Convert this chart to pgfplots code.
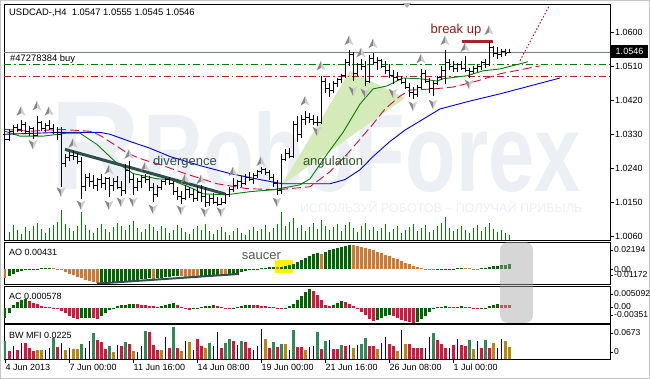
\documentclass[border=0pt]{standalone}
\usepackage{pgfplots}
\pgfplotsset{compat=1.18}
\usepackage{pgfplotstable}
\usepackage{graphicx}
\usepackage{fontspec}
\setmainfont{Liberation Sans}

\definecolor{wm}{RGB}{236,239,243}
\definecolor{aogreen}{RGB}{0,100,0}
\definecolor{aoorange}{RGB}{210,120,50}
\definecolor{acred}{RGB}{220,20,60}
\definecolor{mfigreen}{RGB}{46,139,87}
\definecolor{mfired}{RGB}{220,20,60}
\definecolor{mfigold}{RGB}{184,134,11}
\definecolor{mfiblue}{RGB}{0,0,128}
\definecolor{volgreen}{RGB}{0,128,0}
\definecolor{jaw}{RGB}{0,0,205}
\definecolor{teeth}{RGB}{200,20,60}
\definecolor{lips}{RGB}{0,128,0}
\definecolor{wedge}{RGB}{212,234,184}
\definecolor{slate}{RGB}{47,79,79}
\definecolor{bidgray}{RGB}{112,128,144}
\definecolor{brk}{RGB}{165,35,35}
\definecolor{brktxt}{RGB}{140,30,30}
\definecolor{angtxt}{RGB}{45,90,45}
\definecolor{sautxt}{RGB}{80,92,80}
\definecolor{fracdark}{RGB}{135,135,135}
\definecolor{fraclight}{RGB}{205,205,205}
\definecolor{ordgreen}{RGB}{0,128,0}
\definecolor{ordred}{RGB}{178,34,34}

\newcommand{\lab}{\fontsize{9}{10}\selectfont}
\newcommand{\bigtxt}{\fontsize{13}{15}\selectfont}

\pgfdeclareplotmark{otick}{\pgfpathmoveto{\pgfqpoint{-1.8pt}{0pt}}\pgfpathlineto{\pgfqpoint{0pt}{0pt}}\pgfusepathqstroke}
\pgfdeclareplotmark{ctick}{\pgfpathmoveto{\pgfqpoint{0pt}{0pt}}\pgfpathlineto{\pgfqpoint{1.8pt}{0pt}}\pgfusepathqstroke}
\pgfdeclareplotmark{fup}{%
 \pgfsetfillcolor{fracdark}%
 \pgfpathmoveto{\pgfqpoint{0pt}{5pt}}\pgfpathlineto{\pgfqpoint{-4.5pt}{-4.5pt}}\pgfpathlineto{\pgfqpoint{0pt}{-2pt}}\pgfpathclose\pgfusepathqfill
 \pgfsetfillcolor{fraclight}%
 \pgfpathmoveto{\pgfqpoint{0pt}{5pt}}\pgfpathlineto{\pgfqpoint{4.5pt}{-4.5pt}}\pgfpathlineto{\pgfqpoint{0pt}{-2pt}}\pgfpathclose\pgfusepathqfill}
\pgfdeclareplotmark{fdown}{%
 \pgfsetfillcolor{fracdark}%
 \pgfpathmoveto{\pgfqpoint{0pt}{-5pt}}\pgfpathlineto{\pgfqpoint{-4.5pt}{4.5pt}}\pgfpathlineto{\pgfqpoint{0pt}{2pt}}\pgfpathclose\pgfusepathqfill
 \pgfsetfillcolor{fraclight}%
 \pgfpathmoveto{\pgfqpoint{0pt}{-5pt}}\pgfpathlineto{\pgfqpoint{4.5pt}{4.5pt}}\pgfpathlineto{\pgfqpoint{0pt}{2pt}}\pgfpathclose\pgfusepathqfill}

\pgfplotstableread{
i o h l c
0 1.0330 1.0343 1.0303 1.0315
1 1.0315 1.0345 1.0312 1.0338
2 1.0338 1.0355 1.0328 1.0348
3 1.0348 1.0358 1.0335 1.0342
4 1.0342 1.0367 1.0336 1.0355
5 1.0355 1.0362 1.0330 1.0338
6 1.0338 1.0352 1.0326 1.0344
7 1.0344 1.0350 1.0317 1.0328
8 1.0328 1.0378 1.0325 1.0360
9 1.0360 1.0365 1.0338 1.0345
10 1.0345 1.0360 1.0336 1.0352
11 1.0352 1.0367 1.0340 1.0346
12 1.0346 1.0358 1.0330 1.0335
13 1.0335 1.0348 1.0315 1.0330
14 1.0330 1.0350 1.0191 1.0252
15 1.0252 1.0277 1.0244 1.0268
16 1.0268 1.0282 1.0258 1.0275
17 1.0275 1.0287 1.0262 1.0270
18 1.0270 1.0280 1.0250 1.0258
19 1.0258 1.0271 1.0159 1.0192
20 1.0192 1.0226 1.0180 1.0215
21 1.0215 1.0228 1.0190 1.0205
22 1.0205 1.0222 1.0185 1.0195
23 1.0195 1.0215 1.0180 1.0210
24 1.0210 1.0225 1.0188 1.0200
25 1.0200 1.0218 1.0182 1.0212
26 1.0212 1.0218 1.0164 1.0195
27 1.0195 1.0215 1.0180 1.0205
28 1.0205 1.0220 1.0185 1.0190
29 1.0190 1.0205 1.0166 1.0180
30 1.0180 1.0250 1.0172 1.0235
31 1.0235 1.0258 1.0200 1.0210
32 1.0210 1.0225 1.0168 1.0190
33 1.0190 1.0215 1.0180 1.0205
34 1.0205 1.0222 1.0188 1.0215
35 1.0215 1.0225 1.0200 1.0210
36 1.0210 1.0220 1.0180 1.0190
37 1.0190 1.0200 1.0151 1.0170
38 1.0170 1.0196 1.0165 1.0190
39 1.0190 1.0210 1.0182 1.0205
40 1.0205 1.0215 1.0195 1.0210
41 1.0210 1.0218 1.0195 1.0200
42 1.0200 1.0205 1.0170 1.0178
43 1.0178 1.0190 1.0155 1.0165
44 1.0165 1.0180 1.0146 1.0160
45 1.0160 1.0196 1.0155 1.0185
46 1.0185 1.0190 1.0160 1.0170
47 1.0170 1.0185 1.0150 1.0160
48 1.0160 1.0192 1.0152 1.0175
49 1.0175 1.0196 1.0150 1.0165
50 1.0165 1.0190 1.0138 1.0150
51 1.0150 1.0170 1.0140 1.0160
52 1.0160 1.0175 1.0145 1.0150
53 1.0150 1.0165 1.0140 1.0145
54 1.0145 1.0160 1.0142 1.0150
55 1.0150 1.0175 1.0145 1.0170
56 1.0170 1.0190 1.0165 1.0185
57 1.0185 1.0215 1.0178 1.0195
58 1.0195 1.0210 1.0185 1.0205
59 1.0205 1.0220 1.0190 1.0200
60 1.0200 1.0225 1.0195 1.0215
61 1.0215 1.0230 1.0205 1.0210
62 1.0210 1.0228 1.0198 1.0222
63 1.0222 1.0236 1.0215 1.0232
64 1.0232 1.0242 1.0225 1.0238
65 1.0238 1.0240 1.0222 1.0228
66 1.0228 1.0235 1.0210 1.0215
67 1.0215 1.0225 1.0190 1.0200
68 1.0200 1.0210 1.0170 1.0180
69 1.0180 1.0277 1.0172 1.0262
70 1.0262 1.0290 1.0258 1.0280
71 1.0280 1.0293 1.0266 1.0272
72 1.0272 1.0365 1.0268 1.0355
73 1.0355 1.0378 1.0310 1.0330
74 1.0330 1.0380 1.0320 1.0370
75 1.0370 1.0391 1.0355 1.0375
76 1.0375 1.0385 1.0360 1.0368
77 1.0368 1.0382 1.0355 1.0362
78 1.0362 1.0378 1.0352 1.0362
79 1.0362 1.0485 1.0357 1.0470
80 1.0470 1.0480 1.0440 1.0450
81 1.0450 1.0465 1.0430 1.0445
82 1.0445 1.0470 1.0440 1.0465
83 1.0465 1.0478 1.0455 1.0475
84 1.0475 1.0490 1.0465 1.0485
85 1.0485 1.0530 1.0480 1.0520
86 1.0520 1.0552 1.0510 1.0540
87 1.0540 1.0548 1.0470 1.0490
88 1.0490 1.0520 1.0485 1.0515
89 1.0515 1.0530 1.0500 1.0510
90 1.0510 1.0525 1.0458 1.0470
91 1.0470 1.0540 1.0465 1.0530
92 1.0530 1.0546 1.0515 1.0520
93 1.0520 1.0535 1.0500 1.0525
94 1.0525 1.0530 1.0505 1.0510
95 1.0510 1.0525 1.0490 1.0500
96 1.0500 1.0515 1.0480 1.0485
97 1.0485 1.0500 1.0462 1.0480
98 1.0480 1.0495 1.0470 1.0475
99 1.0475 1.0485 1.0462 1.0468
100 1.0468 1.0480 1.0450 1.0455
101 1.0455 1.0465 1.0430 1.0440
102 1.0440 1.0455 1.0423 1.0435
103 1.0435 1.0460 1.0430 1.0455
104 1.0455 1.0503 1.0450 1.0490
105 1.0490 1.0500 1.0465 1.0470
106 1.0470 1.0480 1.0440 1.0450
107 1.0450 1.0470 1.0431 1.0465
108 1.0465 1.0485 1.0460 1.0480
109 1.0480 1.0510 1.0475 1.0500
110 1.0500 1.0552 1.0463 1.0520
111 1.0520 1.0530 1.0500 1.0510
112 1.0510 1.0525 1.0495 1.0505
113 1.0505 1.0520 1.0495 1.0515
114 1.0515 1.0525 1.0500 1.0505
115 1.0505 1.0538 1.0495 1.0500
116 1.0500 1.0505 1.0480 1.0495
117 1.0495 1.0512 1.0490 1.0505
118 1.0505 1.0515 1.0495 1.0510
119 1.0510 1.0525 1.0500 1.0520
120 1.0520 1.0530 1.0505 1.0515
121 1.0515 1.0578 1.0510 1.0560
122 1.0560 1.0565 1.0535 1.0545
123 1.0545 1.0560 1.0530 1.0540
124 1.0540 1.0555 1.0535 1.0550
125 1.0550 1.0555 1.0538 1.0545
126 1.0547 1.0555 1.0545 1.0546
}\bars

\pgfplotsset{
 panel/.style={anchor=north west, scale only axis, width=606pt, xmin=-0.25, xmax=151.25,
   axis line style={line width=0.8pt}, xtick=\empty, ytick=\empty, clip=true},
}

\begin{document}
\begin{tikzpicture}
\begin{scope}[x=1pt,y=1pt]
\fill[white] (0,0) rectangle (650,379);
\draw[gray!45] (0.5,0.5) rectangle (649.5,378.5);
% watermark
\node[anchor=south west, inner sep=0, text=wm] at (50,189) {\resizebox{90pt}{87pt}{\bfseries R}};
\node[anchor=south west, inner sep=0, text=wm] at (143,186) {\resizebox{437pt}{80pt}{\bfseries RoboForex}};
\node[anchor=west, inner sep=0, text=wm] at (300,172) {\resizebox{282pt}{!}{ИСПОЛЬЗУЙ РОБОТОВ – ПОЛУЧАЙ ПРИБЫЛЬ}};
\end{scope}

% volumes
\begin{axis}[panel, at={(4pt,375pt)}, height=236pt, ymin=0, ymax=23600, axis lines=none]
\addplot[ycomb, volgreen, line width=1pt] coordinates {
(0,1200)(1,800)(2,1500)(3,1000)(4,600)(5,1300)(6,900)(7,1400)(8,1700)(9,1100)(10,700)(11,1200)(12,1500)(13,1800)(14,3000)(15,1600)(16,1200)(17,900)(18,1400)(19,2800)(20,1500)(21,1000)(22,700)(23,1200)(24,1600)(25,1100)(26,800)(27,1300)(28,1700)(29,1400)(30,1000)(31,1500)(32,1900)(33,1200)(34,800)(35,1100)(36,1600)(37,1300)(38,900)(39,1400)(40,1200)(41,700)(42,1000)(43,1500)(44,1200)(45,800)(46,600)(47,1100)(48,1400)(49,1000)(50,1600)(51,900)(52,600)(53,1000)(54,1300)(55,800)(56,500)(57,900)(58,1200)(59,700)(60,500)(61,1000)(62,1300)(63,900)(64,1100)(65,1500)(66,800)(67,1200)(68,1600)(69,2800)(70,1400)(71,1800)(72,2200)(73,1200)(74,1500)(75,900)(76,1300)(77,1700)(78,1100)(79,2000)(80,1400)(81,1000)(82,1300)(83,1600)(84,900)(85,1500)(86,1800)(87,1200)(88,800)(89,1400)(90,1700)(91,1000)(92,1300)(93,900)(94,1200)(95,1600)(96,800)(97,1100)(98,1400)(99,700)(100,1000)(101,1300)(102,1600)(103,900)(104,1200)(105,1500)(106,800)(107,1000)(108,1400)(109,1700)(110,2300)(111,1200)(112,900)(113,1100)(114,1400)(115,1000)(116,700)(117,1200)(118,1500)(119,900)(120,1300)(121,1700)(122,1100)(123,800)(124,1000)(125,700)(126,500)};
\end{axis}

% main price panel
\begin{axis}[panel, at={(4pt,375pt)}, height=236pt, ymin=1.0050, ymax=1.0675,
  ytick={1.0060,1.0150,1.0240,1.0330,1.0420,1.0510,1.0600},
  yticklabels={1.0060,1.0150,1.0240,1.0330,1.0420,1.0510,1.0600},
  ytick pos=right, tick align=outside, major tick length=4pt,
  tick style={black, line width=0.6pt},
  yticklabel style={font=\lab, inner sep=1pt}]
\addplot[fill=wedge, draw=none] coordinates {(69.25,1.0196) (86.25,1.0498) (100,1.0426)} -- cycle;
\addplot[bidgray, line width=0.8pt] coordinates {(-0.25,1.0546) (151.25,1.0546)};
\addplot[ordgreen, line width=0.9pt, dash pattern=on 7pt off 3pt on 1.5pt off 3pt] coordinates {(-0.25,1.05145) (151.25,1.05145)};
\addplot[ordred, line width=0.9pt, dash pattern=on 7pt off 3pt on 1.5pt off 3pt] coordinates {(-0.25,1.04825) (151.25,1.04825)};
\addplot[jaw, line width=0.9pt] coordinates {(0,1.0330) (13.75,1.0335) (23.75,1.0335) (26.25,1.0330) (31.25,1.0311) (36.25,1.0293) (41.25,1.0271) (48.75,1.0247) (56.25,1.0226) (63.75,1.0210) (69.25,1.0199) (81.25,1.0199) (85,1.0210) (88.75,1.0236) (92,1.0271) (96.25,1.0311) (100,1.0341) (103.75,1.0365) (108.75,1.0397) (116.25,1.0418) (123.75,1.0437) (131.25,1.0458) (138.75,1.0479)};
\addplot[teeth, line width=0.9pt, dash pattern=on 9pt off 4pt] coordinates {(0,1.0343) (6.25,1.0338) (13.75,1.0343) (21.25,1.0338) (23.75,1.0327) (28,1.0298) (30.75,1.0279) (34.5,1.0263) (38.75,1.0250) (45,1.0226) (53,1.0199) (60.5,1.0186) (68,1.0183) (76.25,1.0191) (81.25,1.0231) (85.5,1.0277) (88.75,1.0317) (92,1.0357) (95,1.0397) (98.75,1.0431) (101.25,1.0447) (107,1.0450) (112,1.0455) (118,1.0471) (123.75,1.0490) (133.75,1.0511)};
\addplot[lips, line width=0.9pt] coordinates {(0,1.0338) (3.75,1.0325) (9.5,1.0325) (15.5,1.0333) (18.75,1.0333) (23,1.0303) (27.5,1.0258) (32,1.0226) (38,1.0212) (41.25,1.0210) (47,1.0186) (49.5,1.0172) (55.5,1.0170) (61.25,1.0178) (67,1.0183) (73.75,1.0196) (76.25,1.0212) (80.5,1.0277) (84.5,1.0335) (88.75,1.0410) (92,1.0450) (95.5,1.0458) (99.5,1.0479) (103.75,1.0477) (108,1.0471) (109.5,1.0477) (115.5,1.0485) (119.5,1.0498) (123.75,1.0503) (130.75,1.0522)};
\addplot[slate, line width=3pt] coordinates {(15,1.0290) (55,1.0172)};
\addplot[brk, line width=1pt, dash pattern=on 1.5pt off 2pt] coordinates {(128.75,1.0525) (136,1.0669)};
\addplot[brk, line width=3pt] coordinates {(114.25,1.0576) (122,1.0576)};
\addplot[draw=none, forget plot, error bars/.cd, y dir=plus, y explicit, error mark=none,
  error bar style={draw=black, solid, line width=1pt}]
  table[x=i, y=l, y error plus expr=\thisrow{h}-\thisrow{l}] {\bars};
\addplot[only marks, mark=otick, mark options={black, line width=1pt}] table[x=i, y=o] {\bars};
\addplot[only marks, mark=ctick, mark options={black, line width=1pt}] table[x=i, y=c] {\bars};
\addplot[only marks, mark=fup] coordinates {(4,1.0391) (8,1.0405) (11,1.0391) (17,1.0306) (26,1.0236) (31,1.0277) (35,1.0244) (45,1.0212) (49,1.0210) (57,1.0231) (64,1.0258) (75,1.0418) (79,1.0511) (86,1.0578) (89,1.0546) (92,1.0570) (104,1.0530) (110,1.0578) (115,1.0560) (121,1.0605)};
\addplot[only marks, mark=fdown] coordinates {(7,1.0303) (14,1.0178) (19,1.0143) (26,1.0143) (29,1.0151) (32,1.0151) (37,1.0132) (44,1.0130) (50,1.0124) (54,1.0125) (68,1.0151) (78,1.0338) (87,1.0445) (90,1.0439) (97,1.0439) (102,1.0405) (107,1.0410) (116,1.0463)};
\end{axis}

% AO panel
\begin{axis}[panel, at={(4pt,137pt)}, height=42pt, ymin=-0.01172, ymax=0.02194]
\fill[yellow] (axis cs:67.6,-0.0030) rectangle (axis cs:72,0.0079);
\addplot[ycomb, aogreen, line width=3pt] coordinates {
(1,-0.0051)(2,-0.0034)(3,-0.0021)(4,-0.0013)(5,-0.0008)(6,-0.0004)(7,0.0003)(8,0.0005)(9,0.0007)(10,0.0008)(11,0.0011)
(24,-0.0108)(25,-0.0106)(26,-0.0104)(27,-0.0101)(28,-0.0099)(29,-0.0095)(30,-0.0093)(31,-0.0090)(32,-0.0086)(33,-0.0083)(34,-0.0079)(35,-0.0076)(36,-0.0073)
(38,-0.0072)(39,-0.0068)(40,-0.0063)(41,-0.0059)(42,-0.0057)(43,-0.0056)
(49,-0.0059)(50,-0.0055)(51,-0.0051)(52,-0.0046)(53,-0.0042)
(56,-0.0042)(57,-0.0038)(58,-0.0032)(59,-0.0025)(60,-0.0017)(61,-0.0008)(62,0.0003)(63,0.0005)(64,0.0008)(65,0.0012)(66,0.0015)(67,0.0019)
(69,0.0022)(70,0.0029)(71,0.0037)(72,0.0046)(73,0.0059)(74,0.0076)(75,0.0093)(76,0.0110)(77,0.0123)(78,0.0135)
(80,0.0139)(81,0.0152)(82,0.0165)(83,0.0173)(84,0.0182)(85,0.0190)(86,0.0199)
(108,-0.0003)(109,-0.0002)(110,0.0002)(111,0.0004)(112,0.0006)(113,0.0007)(114,0.0009)
(119,0.0008)(120,0.0011)(121,0.0017)(122,0.0024)(123,0.0030)(124,0.0035)(125,0.0039)(126,0.0043)};
\addplot[ycomb, aoorange, line width=3pt] coordinates {
(0,-0.0068)(12,0.0010)(13,0.0004)(14,-0.0008)(15,-0.0021)(16,-0.0034)(17,-0.0046)(18,-0.0059)(19,-0.0072)(20,-0.0085)(21,-0.0093)(22,-0.0101)(23,-0.0110)
(37,-0.0074)(44,-0.0057)(45,-0.0058)(46,-0.0059)(47,-0.0060)(48,-0.0061)(54,-0.0044)(55,-0.0045)(68,0.0017)(79,0.0127)
(87,0.0194)(88,0.0186)(89,0.0177)(90,0.0169)(91,0.0161)(92,0.0152)(93,0.0142)(94,0.0131)(95,0.0118)(96,0.0106)(97,0.0093)(98,0.0080)(99,0.0068)(100,0.0055)(101,0.0042)(102,0.0030)(103,0.0017)(104,0.0008)(105,0.0003)(106,-0.0003)(107,-0.0004)
(115,0.0008)(116,0.0007)(117,0.0006)(118,0.0005)};
\addplot[slate, line width=2pt] coordinates {(23,-0.0114) (58.5,-0.0037)};
\end{axis}

% AC panel
\begin{axis}[panel, at={(4pt,93pt)}, height=37pt, ymin=-0.00351, ymax=0.005092]
\addplot[ycomb, aogreen, line width=3pt] coordinates {
(0,-0.00232)(1,-0.00116)(2,0.00070)(3,0.00139)(4,0.00174)(5,0.00197)
(19,-0.00244)(20,-0.00232)(21,-0.00227)(24,-0.00186)(25,-0.00116)(26,-0.00058)(27,-0.00012)(28,0.00035)(29,0.00058)(30,0.00074)(31,0.00088)(32,0.00097)
(39,0.00046)(40,0.00070)(41,0.00088)(42,0.00104)(47,-0.00035)(48,-0.00012)(49,0.00019)(50,0.00035)(51,0.00046)(52,0.00056)
(57,-0.00012)(58,0.00023)(59,0.00046)(60,0.00065)(61,0.00077)
(70,-0.00005)(71,0.00035)(72,0.00093)(73,0.00186)(74,0.00278)(75,0.00371)(76,0.00441)
(82,0.00070)(83,0.00116)(84,0.00162)(93,-0.00278)(94,-0.00232)(95,-0.00186)(96,-0.00162)
(103,-0.00325)(104,-0.00255)(105,-0.00186)(106,-0.00104)(107,-0.00023)(108,0.00012)(109,0.00030)(110,0.00042)
(113,0.00030)(114,0.00042)(119,-0.00019)(120,0.00007)(121,0.00035)(122,0.00070)(123,0.00093)};
\addplot[ycomb, acred, line width=3pt] coordinates {
(6,0.00162)(7,0.00116)(8,0.00081)(9,0.00046)(10,0.00023)(11,0.00012)(12,-0.00012)(13,-0.00023)(14,-0.00070)(15,-0.00128)(16,-0.00186)(17,-0.00232)(18,-0.00255)
(22,-0.00244)(23,-0.00260)(33,0.00081)(34,0.00070)(35,0.00058)(36,0.00046)(37,0.00035)(38,0.00023)
(43,0.00058)(44,0.00012)(45,-0.00023)(46,-0.00058)(53,0.00035)(54,0.00012)(55,-0.00012)(56,-0.00023)
(62,0.00070)(63,0.00058)(64,0.00046)(65,0.00035)(66,0.00023)(67,0.00012)(68,-0.00012)(69,-0.00028)
(77,0.00394)(78,0.00302)(79,0.00186)(80,0.00070)(81,0.00035)(85,0.00128)(86,0.00081)(87,0.00035)(88,-0.00023)(89,-0.00093)(90,-0.00174)(91,-0.00255)(92,-0.00302)
(97,-0.00197)(98,-0.00244)(99,-0.00278)(100,-0.00313)(101,-0.00336)(102,-0.00348)
(111,0.00028)(112,0.00019)(115,0.00028)(116,0.00012)(117,-0.00012)(118,-0.00035)(124,0.00074)(125,0.00070)(126,0.00058)};
\end{axis}

% BW MFI panel
\begin{axis}[panel, at={(4pt,55pt)}, height=35pt, ymin=0, ymax=0.0673,
  xtick={0,16,32,48,64,80,96,112},
  xticklabels={4 Jun 2013,7 Jun 00:00,11 Jun 16:00,14 Jun 08:00,19 Jun 00:00,21 Jun 16:00,26 Jun 08:00,1 Jul 00:00},
  xtick pos=bottom, tick align=outside, major tick length=4pt, tick style={black, line width=0.6pt},
  xticklabel style={font=\lab, anchor=north west, inner sep=1pt, xshift=-0.5pt}]
\addplot[ycomb, mfigreen, line width=3pt] coordinates {(0,0.0345)(12,0.0400)(19,0.0290)(22,0.0504)(26,0.0242)(30,0.0331)(35,0.0538)(42,0.0621)(51,0.0311)(55,0.0311)(56,0.0393)(59,0.0345)(67,0.0331)(69,0.0297)(72,0.0552)(78,0.0518)(80,0.0345)(84,0.0276)(89,0.0290)(90,0.0400)(107,0.0504)(116,0.0359)(120,0.0359)};
\addplot[ycomb, mfired, line width=3pt] coordinates {(1,0.0152)(3,0.0173)(5,0.0311)(6,0.0207)(7,0.0152)(13,0.0228)(23,0.0359)(24,0.0331)(25,0.0193)(29,0.0255)(31,0.0290)(36,0.0518)(37,0.0276)(38,0.0173)(41,0.0207)(43,0.0207)(48,0.0380)(49,0.0242)(54,0.0221)(57,0.0345)(60,0.0331)(61,0.0207)(66,0.0221)(68,0.0228)(73,0.0228)(74,0.0228)(79,0.0193)(82,0.0193)(83,0.0193)(85,0.0242)(91,0.0255)(92,0.0242)(96,0.0290)(97,0.0242)(101,0.0290)(102,0.0221)(103,0.0221)(104,0.0221)(108,0.0359)(109,0.0290)(110,0.0221)(112,0.0262)(114,0.0276)(115,0.0242)(119,0.0207)(121,0.0221)};
\addplot[ycomb, mfigold, line width=3pt] coordinates {(8,0.0173)(9,0.0173)(15,0.0173)(17,0.0193)(18,0.0193)(27,0.0138)(32,0.0152)(39,0.0173)(44,0.0152)(46,0.0331)(50,0.0207)(65,0.0393)(70,0.0297)(75,0.0173)(87,0.0207)(93,0.0193)(98,0.0152)(100,0.0290)(117,0.0193)(122,0.0311)(125,0.0345)(126,0.0225)};
\addplot[ycomb, mfiblue, line width=1pt] coordinates {(2,0.0242)(4,0.0311)(10,0.0173)(11,0.0207)(14,0.0311)(16,0.0221)(20,0.0207)(21,0.0345)(28,0.0276)(33,0.0138)(34,0.0242)(40,0.0414)(45,0.0345)(47,0.0173)(52,0.0242)(53,0.0518)(58,0.0276)(62,0.0173)(63,0.0242)(64,0.0573)(71,0.0173)(76,0.0228)(77,0.0242)(81,0.0359)(86,0.0276)(88,0.0276)(94,0.0311)(95,0.0414)(99,0.0552)(105,0.0207)(106,0.0428)(111,0.0207)(113,0.0380)(118,0.0345)(123,0.0207)(124,0.0380)};
\end{axis}

\begin{scope}[x=1pt,y=1pt]
\fill[gray!70, opacity=0.45, rounded corners=8pt] (500,56) rectangle (533,137);
\fill[gray!60] (403,376) -- (411,376) -- (407,371) -- cycle;
\node[anchor=west, inner sep=0, font=\fontsize{9.4}{11}\selectfont] at (9,366) {USDCAD-,H4\ \ 1.0547 1.0555 1.0545 1.0546};
\node[anchor=west, inner sep=0, font=\fontsize{9.4}{11}\selectfont] at (10,320) {\#47278384 buy};
\node[inner sep=0, font=\bigtxt, text=slate] at (185,217) {divergence};
\node[inner sep=0, font=\bigtxt, text=angtxt] at (333,217) {angulation};
\node[inner sep=0, font=\bigtxt, text=brktxt] at (456,349) {break up};
\node[inner sep=0, font=\bigtxt, text=sautxt] at (261.5,123) {saucer};
\node[anchor=west, inner sep=0, font=\lab] at (9,127) {AO 0.00431};
\node[anchor=west, inner sep=0, font=\lab] at (9,82.5) {AC 0.000578};
\node[anchor=west, inner sep=0, font=\lab] at (9,43.5) {BW MFI 0.0225};
\fill[black] (611,321) rectangle (648,334);
\node[text=white, inner sep=0, font=\lab] at (629.5,327.5) {1.0546};
\foreach \yy/\lbl in {129/0.02194, 109.5/0.00, 104/-0.01172, 85/0.005092, 72/0.00, 64/-0.00351, 46/0.0673, 27/0} {
  \draw[black, line width=0.6pt] (610,\yy) -- (613,\yy);
  \node[anchor=west, inner sep=0, font=\fontsize{8.6}{10}\selectfont] at (614,\yy) {\lbl};
}
\pgfresetboundingbox
\useasboundingbox (0,0) rectangle (650,379);
\end{scope}
\end{tikzpicture}
\end{document}
